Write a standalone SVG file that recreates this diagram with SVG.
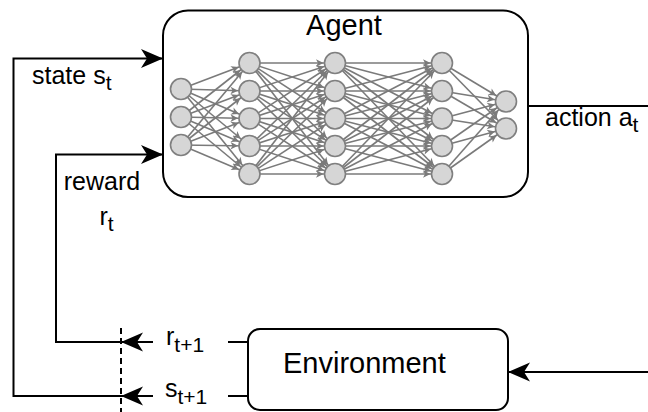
<svg xmlns="http://www.w3.org/2000/svg" width="648" height="412" viewBox="0 0 648 412">
<style>
.box{fill:#fff;stroke:#000;stroke-width:2}
.con{fill:none;stroke:#000;stroke-width:2}
.dash{fill:none;stroke:#000;stroke-width:2;stroke-dasharray:6 4}
.nn line{stroke:#7a7a7a;stroke-width:1.6}
.neuron{fill:#d6d6d6;stroke:#7f7f7f;stroke-width:1.6}
.t{font-family:"Liberation Sans",Arial,sans-serif;fill:#000}
.big{font-size:29px}
.lbl{font-size:25px}
.sub{font-size:21px}
</style>
<defs>
<marker id="arr" markerUnits="userSpaceOnUse" orient="auto" refX="0" refY="0" markerWidth="30" markerHeight="30" overflow="visible">
<path d="M0,0 L-22,-9.5 L-16,0 L-22,9.5 Z" fill="#000"/>
</marker>
<marker id="nnArr" markerUnits="userSpaceOnUse" orient="auto" refX="11.5" refY="0" markerWidth="20" markerHeight="20" overflow="visible">
<path d="M0,0 L-7.5,-3.8 L-5.5,0 L-7.5,3.8 Z" fill="#7a7a7a"/>
</marker>
</defs>

<g id="agent">
<rect class="box" x="163" y="10.5" width="365" height="186.5" rx="25" ry="25"/>
<text class="t big" x="344" y="35" text-anchor="middle">Agent</text>
</g>

<g id="environment">
<rect class="box" x="248" y="329" width="260" height="81" rx="12" ry="12"/>
<text class="t big" x="283" y="373">Environment</text>
</g>

<g id="nn-edges" class="nn" marker-end="url(#nnArr)">
<line x1="181" y1="89" x2="249.5" y2="63" marker-end="url(#nnArr)"/>
<line x1="181" y1="89" x2="249.5" y2="91" marker-end="url(#nnArr)"/>
<line x1="181" y1="89" x2="249.5" y2="118.5" marker-end="url(#nnArr)"/>
<line x1="181" y1="89" x2="249.5" y2="146" marker-end="url(#nnArr)"/>
<line x1="181" y1="89" x2="249.5" y2="174" marker-end="url(#nnArr)"/>
<line x1="181" y1="117" x2="249.5" y2="63" marker-end="url(#nnArr)"/>
<line x1="181" y1="117" x2="249.5" y2="91" marker-end="url(#nnArr)"/>
<line x1="181" y1="117" x2="249.5" y2="118.5" marker-end="url(#nnArr)"/>
<line x1="181" y1="117" x2="249.5" y2="146" marker-end="url(#nnArr)"/>
<line x1="181" y1="117" x2="249.5" y2="174" marker-end="url(#nnArr)"/>
<line x1="181" y1="145" x2="249.5" y2="63" marker-end="url(#nnArr)"/>
<line x1="181" y1="145" x2="249.5" y2="91" marker-end="url(#nnArr)"/>
<line x1="181" y1="145" x2="249.5" y2="118.5" marker-end="url(#nnArr)"/>
<line x1="181" y1="145" x2="249.5" y2="146" marker-end="url(#nnArr)"/>
<line x1="181" y1="145" x2="249.5" y2="174" marker-end="url(#nnArr)"/>

<line x1="249.5" y1="63" x2="335" y2="63" marker-end="url(#nnArr)"/>
<line x1="249.5" y1="63" x2="335" y2="91" marker-end="url(#nnArr)"/>
<line x1="249.5" y1="63" x2="335" y2="118.5" marker-end="url(#nnArr)"/>
<line x1="249.5" y1="63" x2="335" y2="146" marker-end="url(#nnArr)"/>
<line x1="249.5" y1="63" x2="335" y2="174" marker-end="url(#nnArr)"/>
<line x1="249.5" y1="91" x2="335" y2="63" marker-end="url(#nnArr)"/>
<line x1="249.5" y1="91" x2="335" y2="91" marker-end="url(#nnArr)"/>
<line x1="249.5" y1="91" x2="335" y2="118.5" marker-end="url(#nnArr)"/>
<line x1="249.5" y1="91" x2="335" y2="146" marker-end="url(#nnArr)"/>
<line x1="249.5" y1="91" x2="335" y2="174" marker-end="url(#nnArr)"/>
<line x1="249.5" y1="118.5" x2="335" y2="63" marker-end="url(#nnArr)"/>
<line x1="249.5" y1="118.5" x2="335" y2="91" marker-end="url(#nnArr)"/>
<line x1="249.5" y1="118.5" x2="335" y2="118.5" marker-end="url(#nnArr)"/>
<line x1="249.5" y1="118.5" x2="335" y2="146" marker-end="url(#nnArr)"/>
<line x1="249.5" y1="118.5" x2="335" y2="174" marker-end="url(#nnArr)"/>
<line x1="249.5" y1="146" x2="335" y2="63" marker-end="url(#nnArr)"/>
<line x1="249.5" y1="146" x2="335" y2="91" marker-end="url(#nnArr)"/>
<line x1="249.5" y1="146" x2="335" y2="118.5" marker-end="url(#nnArr)"/>
<line x1="249.5" y1="146" x2="335" y2="146" marker-end="url(#nnArr)"/>
<line x1="249.5" y1="146" x2="335" y2="174" marker-end="url(#nnArr)"/>
<line x1="249.5" y1="174" x2="335" y2="63" marker-end="url(#nnArr)"/>
<line x1="249.5" y1="174" x2="335" y2="91" marker-end="url(#nnArr)"/>
<line x1="249.5" y1="174" x2="335" y2="118.5" marker-end="url(#nnArr)"/>
<line x1="249.5" y1="174" x2="335" y2="146" marker-end="url(#nnArr)"/>
<line x1="249.5" y1="174" x2="335" y2="174" marker-end="url(#nnArr)"/>

<line x1="335" y1="63" x2="442" y2="63" marker-end="url(#nnArr)"/>
<line x1="335" y1="63" x2="442" y2="91" marker-end="url(#nnArr)"/>
<line x1="335" y1="63" x2="442" y2="118.5" marker-end="url(#nnArr)"/>
<line x1="335" y1="63" x2="442" y2="146" marker-end="url(#nnArr)"/>
<line x1="335" y1="63" x2="442" y2="174" marker-end="url(#nnArr)"/>
<line x1="335" y1="91" x2="442" y2="63" marker-end="url(#nnArr)"/>
<line x1="335" y1="91" x2="442" y2="91" marker-end="url(#nnArr)"/>
<line x1="335" y1="91" x2="442" y2="118.5" marker-end="url(#nnArr)"/>
<line x1="335" y1="91" x2="442" y2="146" marker-end="url(#nnArr)"/>
<line x1="335" y1="91" x2="442" y2="174" marker-end="url(#nnArr)"/>
<line x1="335" y1="118.5" x2="442" y2="63" marker-end="url(#nnArr)"/>
<line x1="335" y1="118.5" x2="442" y2="91" marker-end="url(#nnArr)"/>
<line x1="335" y1="118.5" x2="442" y2="118.5" marker-end="url(#nnArr)"/>
<line x1="335" y1="118.5" x2="442" y2="146" marker-end="url(#nnArr)"/>
<line x1="335" y1="118.5" x2="442" y2="174" marker-end="url(#nnArr)"/>
<line x1="335" y1="146" x2="442" y2="63" marker-end="url(#nnArr)"/>
<line x1="335" y1="146" x2="442" y2="91" marker-end="url(#nnArr)"/>
<line x1="335" y1="146" x2="442" y2="118.5" marker-end="url(#nnArr)"/>
<line x1="335" y1="146" x2="442" y2="146" marker-end="url(#nnArr)"/>
<line x1="335" y1="146" x2="442" y2="174" marker-end="url(#nnArr)"/>
<line x1="335" y1="174" x2="442" y2="63" marker-end="url(#nnArr)"/>
<line x1="335" y1="174" x2="442" y2="91" marker-end="url(#nnArr)"/>
<line x1="335" y1="174" x2="442" y2="118.5" marker-end="url(#nnArr)"/>
<line x1="335" y1="174" x2="442" y2="146" marker-end="url(#nnArr)"/>
<line x1="335" y1="174" x2="442" y2="174" marker-end="url(#nnArr)"/>

<line x1="442" y1="63" x2="506" y2="101.5" marker-end="url(#nnArr)"/>
<line x1="442" y1="63" x2="506" y2="128.5" marker-end="url(#nnArr)"/>
<line x1="442" y1="91" x2="506" y2="101.5" marker-end="url(#nnArr)"/>
<line x1="442" y1="91" x2="506" y2="128.5" marker-end="url(#nnArr)"/>
<line x1="442" y1="118.5" x2="506" y2="101.5" marker-end="url(#nnArr)"/>
<line x1="442" y1="118.5" x2="506" y2="128.5" marker-end="url(#nnArr)"/>
<line x1="442" y1="146" x2="506" y2="101.5" marker-end="url(#nnArr)"/>
<line x1="442" y1="146" x2="506" y2="128.5" marker-end="url(#nnArr)"/>
<line x1="442" y1="174" x2="506" y2="101.5" marker-end="url(#nnArr)"/>
<line x1="442" y1="174" x2="506" y2="128.5" marker-end="url(#nnArr)"/>
</g>

<g id="neurons">
<g id="n1-1"><circle class="neuron" cx="181" cy="89" r="10.5"/></g>
<g id="n1-2"><circle class="neuron" cx="181" cy="117" r="10.5"/></g>
<g id="n1-3"><circle class="neuron" cx="181" cy="145" r="10.5"/></g>
<g id="n2-1"><circle class="neuron" cx="249.5" cy="63" r="10.5"/></g>
<g id="n2-2"><circle class="neuron" cx="249.5" cy="91" r="10.5"/></g>
<g id="n2-3"><circle class="neuron" cx="249.5" cy="118.5" r="10.5"/></g>
<g id="n2-4"><circle class="neuron" cx="249.5" cy="146" r="10.5"/></g>
<g id="n2-5"><circle class="neuron" cx="249.5" cy="174" r="10.5"/></g>
<g id="n3-1"><circle class="neuron" cx="335" cy="63" r="10.5"/></g>
<g id="n3-2"><circle class="neuron" cx="335" cy="91" r="10.5"/></g>
<g id="n3-3"><circle class="neuron" cx="335" cy="118.5" r="10.5"/></g>
<g id="n3-4"><circle class="neuron" cx="335" cy="146" r="10.5"/></g>
<g id="n3-5"><circle class="neuron" cx="335" cy="174" r="10.5"/></g>
<g id="n4-1"><circle class="neuron" cx="442" cy="63" r="10.5"/></g>
<g id="n4-2"><circle class="neuron" cx="442" cy="91" r="10.5"/></g>
<g id="n4-3"><circle class="neuron" cx="442" cy="118.5" r="10.5"/></g>
<g id="n4-4"><circle class="neuron" cx="442" cy="146" r="10.5"/></g>
<g id="n4-5"><circle class="neuron" cx="442" cy="174" r="10.5"/></g>
<g id="n5-1"><circle class="neuron" cx="506" cy="101.5" r="10.5"/></g>
<g id="n5-2"><circle class="neuron" cx="506" cy="128.5" r="10.5"/></g>
</g>

<g id="connectors">
<path class="con" d="M528,106 H648"/>
<path class="con" d="M648,372 H508" marker-end="url(#arr)"/>
<path class="con" d="M248,342 H228"/>
<path class="con" d="M153,342 H121" marker-end="url(#arr)"/>
<path class="con" d="M121,342 H56 V154.5 H163" marker-end="url(#arr)"/>
<path class="con" d="M248,396 H228"/>
<path class="con" d="M153,396 H121" marker-end="url(#arr)"/>
<path class="con" d="M121,396 H13.5 V58.5 H163" marker-end="url(#arr)"/>
<path class="dash" d="M121,328 V412"/>
</g>

<g id="labels">
<text class="t lbl" x="32" y="84">state s<tspan class="sub" dy="6">t</tspan></text>
<text class="t lbl" x="102" y="190" text-anchor="middle">reward</text>
<text class="t lbl" x="106.5" y="225" text-anchor="middle">r<tspan class="sub" dy="6">t</tspan></text>
<text class="t lbl" x="545" y="126">action a<tspan class="sub" dy="6">t</tspan></text>
<text class="t lbl" x="166" y="345">r<tspan class="sub" dy="7">t+1</tspan></text>
<text class="t lbl" x="165" y="397">s<tspan class="sub" dy="7">t+1</tspan></text>
</g>
</svg>
